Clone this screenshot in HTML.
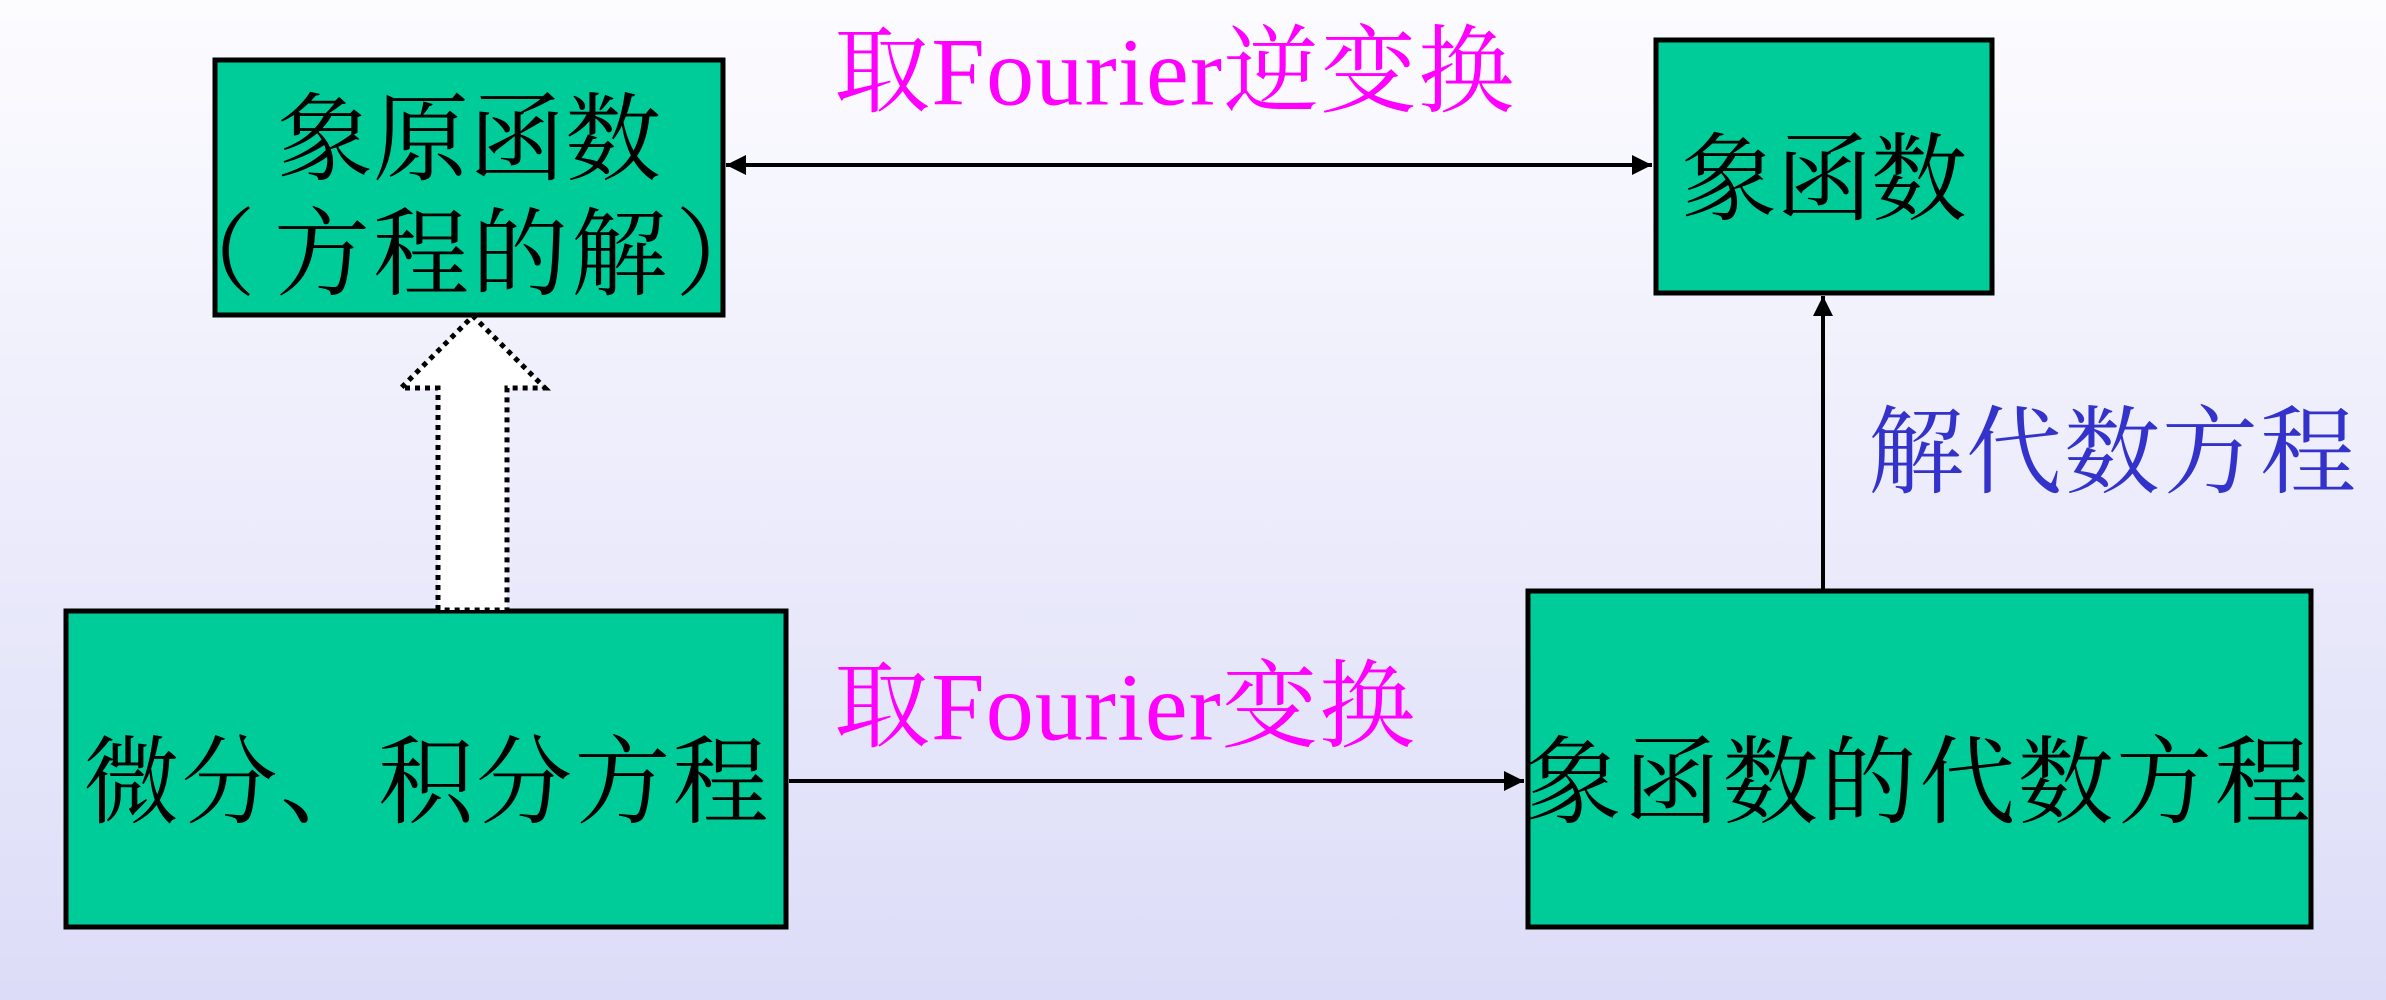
<!DOCTYPE html>
<html><head><meta charset="utf-8"><style>
html,body{margin:0;padding:0}
body{width:2386px;height:1000px;overflow:hidden;background:linear-gradient(#fcfcff,#dcdcf8)}
svg{display:block}
text{font-family:"Liberation Serif","Noto Serif CJK SC",serif;dominant-baseline:central}
text.cjk{font-family:"Noto Serif CJK SC",serif}
</style></head><body>
<svg width="2386" height="1000" viewBox="0 0 2386 1000" xmlns="http://www.w3.org/2000/svg">
<defs>
<marker id="ah" viewBox="0 0 10 10" refX="10" refY="5" markerWidth="5" markerHeight="5" orient="auto-start-reverse"><path d="M0,0L10,5L0,10z" fill="#000"/></marker>
</defs>
<g stroke="#000" stroke-width="5" fill="#00cc99">
<rect x="215" y="60" width="508" height="255"/>
<rect x="1656" y="40" width="336" height="253"/>
<rect x="66" y="611" width="720" height="316"/>
<rect x="1528" y="591" width="783" height="336"/>
</g>
<g stroke="#000" stroke-width="4" fill="none">
<line x1="726" y1="165" x2="1652" y2="165" marker-start="url(#ah)" marker-end="url(#ah)"/>
<line x1="789" y1="781" x2="1524" y2="781" marker-end="url(#ah)"/>
<line x1="1823" y1="589" x2="1823" y2="296" marker-end="url(#ah)"/>
</g>
<path d="M438,610 L438,388 L401,388 L473,316 L545,388 L507,388 L507,610 Z" fill="#fff" stroke="#000" stroke-width="5" stroke-dasharray="5,5"/>
<g font-size="96" fill="#000" text-anchor="middle">
<text class="cjk" x="469" y="132" textLength="384">象原函数</text>
<text class="cjk" x="208 322 421 520 619 723" y="247">（方程的解）</text>
<text class="cjk" x="1824" y="172" textLength="286">象函数</text>
<text class="cjk" x="426" y="775" textLength="685">微分、积分方程</text>
<text class="cjk" x="1918" y="775" textLength="785">象函数的代数方程</text>
</g>
<g font-size="96" text-anchor="start">
<text x="834" y="72" fill="#ff00ff" textLength="680">取Fourier逆变换</text>
<text x="834" y="707" fill="#ff00ff" textLength="581">取Fourier变换</text>
<text class="cjk" x="1868" y="445" fill="#3333cc" textLength="488">解代数方程</text>
</g>
</svg>
</body></html>
